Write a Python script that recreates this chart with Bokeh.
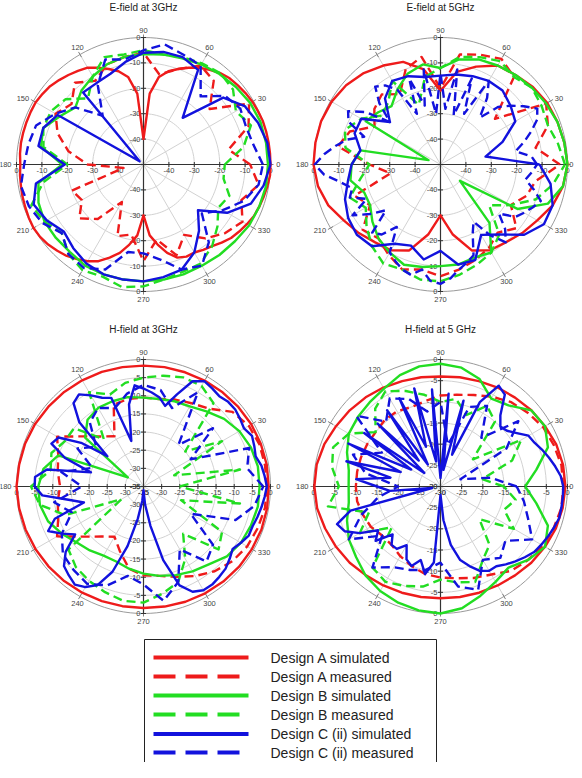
import math
from bokeh.plotting import figure
from bokeh.models import Range1d
from bokeh.embed import file_html
from bokeh.resources import INLINE
from bokeh.core.properties import value

# ---------------- data (dB); a list of 36 values is sampled every 10 deg, 72 values every 5 deg ----------------
ANGLE_LABELS = [0, 30, 60, 90, 120, 150, 180, 210, 240, 270, 300, 330]

E3_A_SIM = [0, 0, 0, 0, 0, -0.3, -0.5, -1, -1.5, -2, -3, -4.5, -6, -8, -10, -12, -15, -22,
            -40, -22, -15, -12, -10, -8, -6, -5, -4, -3, -2, -1.5, -1, -1, -1, -1, -1, -1.2,
            -1.5, -1.2, -1, -0.7, -0.5, -0.2, 0, -0.3, -1, -2, -3, -4.5, -6, -8, -11, -14, -18, -22,
            -30, -22, -18, -14, -11, -10, -10, -9, -8, -6.5, -5, -4, -3, -2, -1.5, -1, -0.5, 0]
E3_A_MEAS = [-8, -16, -6, -2, -16, -7, -5, -10, -14, -6, -7, -8, -12, -8, -13, -10, -14, -20,
             -28, -42, -20, -22, -17, -22, -33, -20, -22, -12, -20, -12, -18, -12, -8, -5, -9, -4]
E3_B_SIM = [-1, -1, -1, -1.5, -2.5, -3.5, -4.5, -5.5, -6, -6.5, -7, -8, -10, -12, -15, -12, -8, -9,
            -18, -8, -6, -5, -5, -5, -4, -4, -4, -4, -4, -4, -4, -3.5, -3, -2, -1.5, -1]
E3_B_MEAS = [-18, -10, -5, -8, -4, -3, -4, -5, -6, -5, -6, -5, -10, -16, -10, -8, -8, -10,
             -20, -10, -3, -5, -8, -4, -2, -3, -1, -2, -4, -5, -5, -8, -12, -16, -14, -18]
E3_C_SIM = [0, -0.5, -2, -4, -9, -26, -7, -5, -5, -6, -9, -12, -13, -13, -48, -11, -8, -8,
            -19, -7, -4, -6, -9, -7, -5, -4, -4, -4, -5, -6, -10, -16, -22, -12, -5, -2]
E3_C_MEAS = [-3, -6, -7, -6, -8, -15, -5, -4, -2, -5, -8, -6, -14, -25, -15, -10, -5, -4,
             -3, -1, -2, -4, -8, -4, -3, -6, -15, -15, -12, -6, -4, -10, -20, -14, -8, -4]

E5_A_SIM = [0, -0.5, -1, -1.5, -2.5, -4, -5, -9, -13, -21, -12, -7, -5, -3, -1.5, -0.5, 0, 0,
            0, -1, -3, -6, -8, -10, -11, -14, -22, -30, -22, -14, -11, -10, -8, -6, -3, -1]
E5_A_MEAS = [-3, -12, -5, -2, -22, -5, -2, -4, -6, -20, -7, -10, -18, -14, -16, -20, -12, -9,
             -22, -30, -14, -18, -10, -12, -9, -6, -8, -6, -8, -10, -12, -15, -11, -18, -14, -12]
E5_B_SIM = [0, -0.5, -1, -2, -3, -4, -5, -6, -8, -12, -10, -12, -16, -20, -18, -16, -45, -18,
            -15, -14, -18, -18, -15, -12, -10, -8, -9, -10, -10, -11, -10, -20, -40, -15, -5, -1]
E5_B_MEAS = [-1, -3, -5, -4, -3, -5, -3, -5, -7, -12, -15, -25, -12, -18, -20, -14, -10, -12,
             -22, -18, -12, -16, -12, -8, -5, -6, -4, -4, -6, -8, -10, -14, -25, -18, -10, -5]
E5_C_SIM = [-11, -32, -24, -16, -14, -12, -12, -13, -14, -15, -15, -13, -12, -16, -24, -14, -14, -18,
            -15, -13, -10, -8, -7, -8, -14, -16, -12, -16, -10, -10, -18, -14, -7, -3, -3, -6]
E5_C_MEAS = [-12, -14, -20, -16, -12, -8, -6, -10, -14, -18, -26, -18, -12, -28, -14, -30, -12, -28,
             -14, -30, -12, -26, -14, -28, -16, -12, -10, -16, -24, -14, -8, -10, -18, -12, -8, -4,
             -0.5, -4, -10, -14, -12, -18, -10, -16, -22, -12, -14, -20, -10, -8, -6, -5, -8, -4,
             -3, -5, -8, -10, -12, -20, -24, -16, -10, -14, -20, -14, -12, -10, -8, -12, -16, -14]

H3_A_SIM = [-0.5, -0.5, -0.6, -0.7, -0.9, -1.1, -1.3, -1.5, -1.6, -1.7, -1.6, -1.4, -1.2, -1, -0.8, -0.5, -0.3, -0.2,
            0, -0.2, -0.4, -0.6, -0.8, -1, -1.2, -1.4, -1.5, -1.5, -1.4, -1.2, -1, -0.8, -0.6, -0.5, -0.4, -0.4]
H3_A_MEAS = [-1, -1, -1, -1.5, -3, -7, -8.5, -9.5, -10.5, -10.5, -10.5, -11, -19, -17, -13.5, -7.5, -10, -11,
             -12, -11, -10, -7.5, -13.5, -17, -19, -16, -12, -10.5, -10, -8.5, -6.5, -4.5, -3, -2, -1.5, -1]
H3_B_SIM = [-3, -3, -3.5, -4.5, -6, -8, -9.5, -10, -10.5, -10.5, -10, -10, -10, -11, -14, -30, -10, -7,
            -6, -6, -7, -9, -11, -12, -13, -13, -12, -11, -10, -9, -8, -7, -5, -4, -3.5, -3]
H3_B_MEAS = [-25, -8, -26, -10, -20, -5, -3, -3, -4, -5, -6, -8, -5, -18, -10, -10, -8, -9,
             -4, -6, -12, -28, -8, -6, -5, -4, -3, -3, -5, -7, -12, -18, -8, -10, -24, -8]
H3_C_SIM = [-1, -1.5, -2, -3, -2.5, -2, -3, -2.5, -2, -2, -2.5, -2, -1.5, -3, -8, -12, -10, -9,
            -8, -7, -12, -22, -9, -8, -6, -4, -5, -10, -22, -14, -8, -7, -12, -20, -8, -5,
            -5, -7, -14, -18, -9, -6, -9, -12, -7, -4, -3, -2, -3, -5, -10, -18, -26, -31,
            -34, -30, -24, -14, -6, -3, -2, -2, -2.5, -3, -4, -5, -4, -3, -3, -2.5, -2, -1.5]
H3_C_MEAS = [-2, -6, -4, -20, -10, -20, -5, -12, -8, -7, -9, -12, -10, -12, -18, -14, -20, -12,
             -18, -10, -14, -9, -6, -5, -4, -6, -10, -8, -3, -7, -15, -8, -10, -20, -8, -4]

H5_A_SIM = [-0.5, -0.6, -0.9, -1.5, -2, -2.6, -3, -3.5, -3.8, -4, -3.8, -3.5, -3, -2.5, -2, -1.5, -0.8, -0.3,
            -0.2, -0.4, -1, -1.5, -2, -2.6, -3, -3.3, -3.5, -3.6, -3.5, -3.3, -3, -2.6, -2, -1.5, -1, -0.7]
H5_A_MEAS = [-1, -1, -1.5, -2, -3, -4, -5.5, -7, -8, -8.5, -9.5, -10, -9.5, -9.5, -10, -10, -10, -10,
             -10, -10, -10.5, -11, -12, -12, -11, -10, -9, -8.5, -8, -7, -6, -4, -3, -2, -1.5, -1]
H5_B_SIM = [-10, -7, -3, -1.5, -2, -5, -6, -3, -1.5, -1, -1.2, -2, -3.3, -4, -4.5, -5, -6.5, -8,
            -8.3, -8, -6.5, -5, -4, -2.5, -1.5, -0.8, -0.3, 0, -0.8, -2.5, -4, -5, -3, -1.5, -3, -7]
H5_B_MEAS = [-15, -20, -12, -8, -20, -10, -8, -12, -9, -10, -8, -6, -4, -6, -10, -5, -3, -4,
             -6, -3, -12, -8, -15, -5, -4, -5, -6, -8, -7, -6, -10, -12, -18, -10, -14, -12]
H5_C_SIM = [-1, -1.5, -2.5, -3.5, -4.5, -5.5, -6, -8, -9.5, -10, -8, -3.5, -2.5, -8, -22, -9, -26, -8,
            -28, -7, -24, -6, -20, -7, -24, -8, -22, -9, -25, -8, -22, -6, -20, -7, -18, -10,
            -15, -18, -28, -8, -4, -5, -8, -12, -10, -14, -12, -12, -14, -11, -10, -12, -9, -12,
            -28, -22, -16, -12, -10, -8, -7, -7, -6, -5, -4, -3, -2.5, -2, -1.5, -1, -1, -1]
H5_C_MEAS = [-12, -18, -25, -12, -6, -15, -8, -10, -20, -10, -12, -8, -6, -10, -4, -14, -8, -12,
             -20, -15, -10, -5, -12, -5, -8, -9, -10, -12, -6, -4, -10, -8, -10, -5, -8, -10]

SERIES_NAMES = ["Design A simulated", "Design A measured", "Design B simulated",
                "Design B measured", "Design C (ii) simulated", "Design C (ii) measured"]

# ---------------- styling ----------------
RED, GREEN, BLUE = "#ee1b1b", "#22dd22", "#1212dd"
SERIES_STYLE = [(RED, "solid"), (RED, "dashed"), (GREEN, "solid"),
                (GREEN, "dashed"), (BLUE, "solid"), (BLUE, "dashed")]
FONT = value("Liberation Sans")

PANELS = [
    dict(title="E-field at 3GHz", cx=151, cy=172, R=127, vmin=-50, step=10, center_label=False,
         curves=[E3_A_SIM, E3_A_MEAS, E3_B_SIM, E3_B_MEAS, E3_C_SIM, E3_C_MEAS]),
    dict(title="E-field at 5GHz", cx=448, cy=172, R=127, vmin=-50, step=10, center_label=False,
         curves=[E5_A_SIM, E5_A_MEAS, E5_B_SIM, E5_B_MEAS, E5_C_SIM, E5_C_MEAS]),
    dict(title="H-field at 3GHz", cx=151, cy=494, R=127, vmin=-35, step=5, center_label=True,
         curves=[H3_A_SIM, H3_A_MEAS, H3_B_SIM, H3_B_MEAS, H3_C_SIM, H3_C_MEAS]),
    dict(title="H-field at 5 GHz", cx=448, cy=494, R=127, vmin=-30, step=5, center_label=True,
         curves=[H5_A_SIM, H5_A_MEAS, H5_B_SIM, H5_B_MEAS, H5_C_SIM, H5_C_MEAS]),
]

p = figure(width=574, height=762, x_range=Range1d(8, 582), y_range=Range1d(770, 8),
           output_backend="svg", toolbar_location=None, min_border=0)
p.axis.visible = False
p.grid.visible = False
p.outline_line_color = None


def pol(cx, cy, r, deg):
    a = math.radians(deg)
    return cx + r * math.cos(a), cy - r * math.sin(a)


for pn in PANELS:
    cx, cy, R, vmin, step = pn["cx"], pn["cy"], pn["R"], pn["vmin"], pn["step"]
    ring_vals = list(range(vmin + step, 1, step))
    rxs, rys = [], []
    for v in ring_vals:
        r = (v - vmin) / (-vmin) * R
        pts = [pol(cx, cy, r, a) for a in range(0, 361, 3)]
        rxs.append([q[0] for q in pts])
        rys.append([q[1] for q in pts])
    p.multi_line(rxs[:-1], rys[:-1], line_color="#d2d2d2", line_width=1)
    p.multi_line([rxs[-1]], [rys[-1]], line_color="#9a9a9a", line_width=1)
    gx, gy = [], []
    for a in ANGLE_LABELS:
        if a % 90:
            x1, y1 = pol(cx, cy, R, a)
            gx.append([cx, x1]); gy.append([cy, y1])
    p.multi_line(gx, gy, line_color="#d2d2d2", line_width=1)
    tx, ty = [], []
    for a in ANGLE_LABELS:
        x0, y0 = pol(cx, cy, R - 3, a)
        x1, y1 = pol(cx, cy, R + 3, a)
        tx.append([x0, x1]); ty.append([y0, y1])
    p.multi_line(tx, ty, line_color="#808080", line_width=1)
    p.multi_line([[cx - R, cx + R], [cx, cx]], [[cy, cy], [cy - R, cy + R]],
                 line_color="#333333", line_width=1.2)
    ax, ay = [], []
    for v in ring_vals:
        r = (v - vmin) / (-vmin) * R
        for s in (-1, 1):
            ax.append([cx + s * r, cx + s * r]); ay.append([cy - 2.5, cy + 2.5])
            ax.append([cx - 2.5, cx + 2.5]); ay.append([cy + s * r, cy + s * r])
    p.multi_line(ax, ay, line_color="#333333", line_width=1)
    lab_vals = list(ring_vals)
    if pn["center_label"]:
        lab_vals = [vmin] + lab_vals
    lx, ly, lt, hx, hy, ht = [], [], [], [], [], []
    for v in lab_vals:
        r = (v - vmin) / (-vmin) * R
        for s in (-1, 1):
            lx.append(cx - 3); ly.append(cy + s * r); lt.append(str(v))
            hx.append(min(cx + s * r, 577)); hy.append(cy + 3); ht.append(str(v))
    p.text(lx, ly, text=lt, text_align="right", text_baseline="middle",
           text_font=FONT, text_font_size="7.5px", text_color="#444444")
    p.text(hx, hy, text=ht, text_align="center", text_baseline="top",
           text_font=FONT, text_font_size="7.5px", text_color="#444444")
    for a in ANGLE_LABELS:
        ca, sa = math.cos(math.radians(a)), math.sin(math.radians(a))
        x, y = pol(cx, cy, R + 5, a)
        align = "left" if ca > 0.6 else ("right" if ca < -0.6 else "center")
        base = "bottom" if sa > 0.6 else ("top" if sa < -0.6 else "middle")
        if a == 0:
            x, align = min(cx + R + 10, 581), "right"
        p.text([x], [y], text=[str(a)], text_align=align, text_baseline=base,
               text_font=FONT, text_font_size="7.5px", text_color="#444444")
    p.text([cx], [cy - 157], text=[pn["title"]], text_align="center",
           text_baseline="middle", text_font=FONT, text_font_size="10px", text_color="#222222")
    for vals, (col, sty) in zip(pn["curves"], SERIES_STYLE):
        n = len(vals)
        angs = [i * 360.0 / n for i in range(n)] + [0.0]
        vv = vals + [vals[0]]
        xs, ys = [], []
        for a, v in zip(angs, vv):
            r = (max(v, vmin) - vmin) / (-vmin) * R
            x, y = pol(cx, cy, r, a)
            xs.append(x); ys.append(y)
        if sty == "solid":
            p.line(xs, ys, line_color=col, line_width=2.4, line_join="round")
        else:
            p.line(xs, ys, line_color=col, line_width=2.4, line_dash="9 5", line_join="round")

# ---------------- legend ----------------
p.quad(left=[152], right=[444], top=[647], bottom=[800], fill_color="white",
       line_color="#222222", line_width=1)
row_y = [665, 684, 703, 722, 741.5, 760]
for name, (col, sty), y in zip(SERIES_NAMES, SERIES_STYLE, row_y):
    if sty == "solid":
        p.line([161, 256], [y, y], line_color=col, line_width=4)
    else:
        p.line([161, 247], [y, y], line_color=col, line_width=4, line_dash="22 10")
    p.text([278], [y], text=[name], text_align="left", text_baseline="middle",
           text_font=FONT, text_font_size="14px", text_color="#222222")

open("out.html", "w").write(file_html(p, INLINE))
